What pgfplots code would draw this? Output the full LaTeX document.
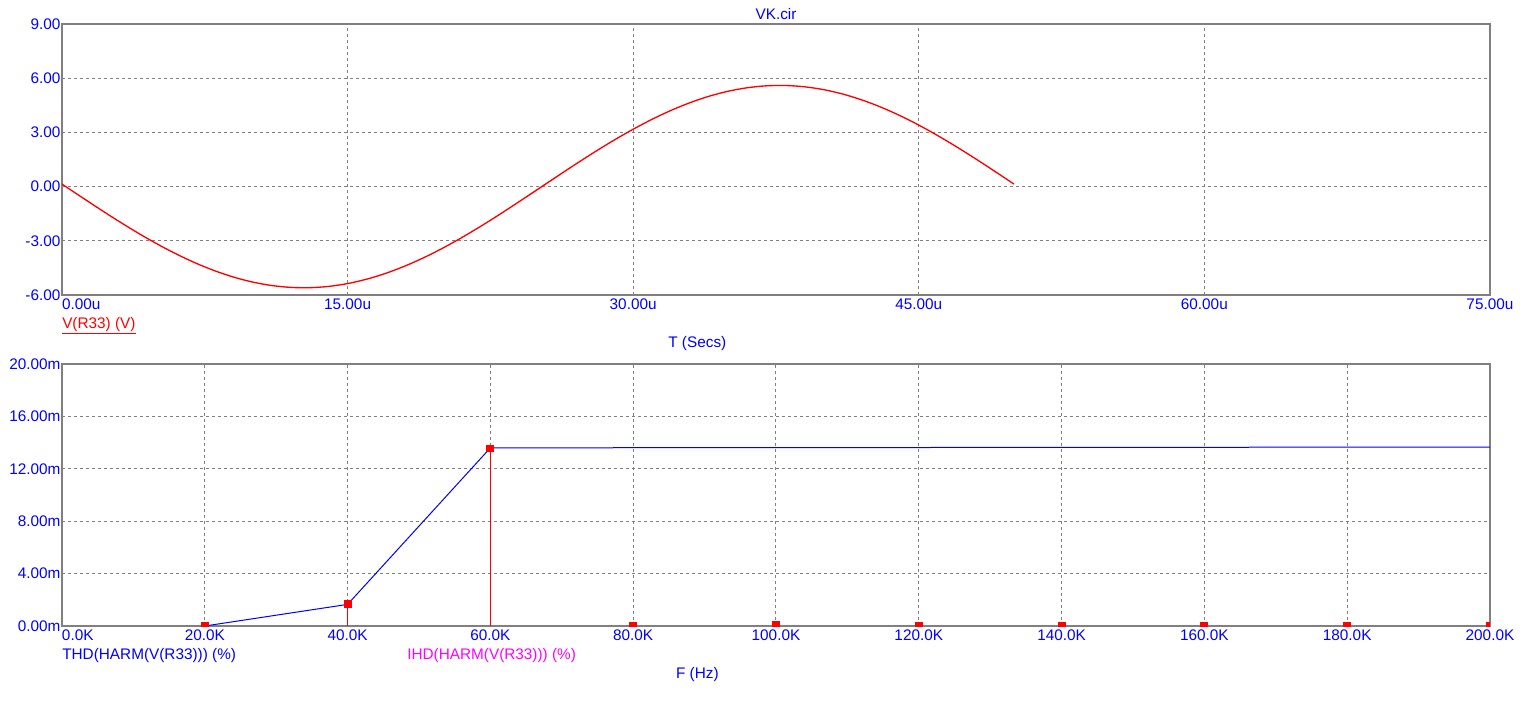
\documentclass[border=0pt]{standalone}
\usepackage{pgfplots}
\pgfplotsset{compat=1.18}
\usepackage{fontspec}
\setmainfont{Liberation Sans}
\definecolor{tblue}{RGB}{0,0,255}
\definecolor{tred}{RGB}{255,0,0}
\definecolor{tmag}{RGB}{255,0,255}
\definecolor{tgray}{RGB}{128,128,128}
\begin{document}
\begin{tikzpicture}
\fontsize{11.5pt}{13pt}\selectfont
\path[use as bounding box] (0,0) rectangle (1149pt,-525pt);
\pgfplotsset{common/.style={
  scale only axis, width=1071pt,
  axis line style={tgray,line width=1pt},
  grid=major,
  major grid style={tgray,dash pattern=on 2.25pt off 2.25pt,line width=0.75pt},
  major tick length=0pt,
  tick label style={font=\fontsize{11.5pt}{13pt}\selectfont, text=tblue},
  yticklabel style={anchor=east, inner sep=1pt},
  xticklabel style={anchor=north, inner sep=1pt, yshift=-2pt},
}}
\begin{axis}[common, at={(46.5pt,-18pt)}, anchor=north west, height=203.25pt,
  xmin=0, xmax=75, ymin=-6, ymax=9,
  xtick={0,15,30,45,60,75},
  xticklabels={\makebox[0pt][l]{0.00u},15.00u,30.00u,45.00u,60.00u,75.00u},
  ytick={-6,-3,0,3,6,9},
  yticklabels={-6.00,-3.00,0.00,3.00,6.00,9.00}]
\addplot[tred, line width=1pt, smooth] coordinates {
(0,0.141) (1,-0.562) (2,-1.256) (3,-1.930) (4,-2.574) (5,-3.176) (6,-3.729) (7,-4.223) (8,-4.651) (9,-5.006)
(10,-5.281) (11,-5.473) (12,-5.578) (13,-5.596) (14,-5.525) (15,-5.368) (16,-5.125) (17,-4.802) (18,-4.403) (19,-3.935)
(20,-3.405) (21,-2.820) (22,-2.192) (23,-1.529) (24,-0.841) (25,-0.141) (26,0.562) (27,1.256) (28,1.930) (29,2.574)
(30,3.176) (31,3.729) (32,4.223) (33,4.651) (34,5.006) (35,5.281) (36,5.473) (37,5.578) (38,5.596) (39,5.525)
(40,5.368) (41,5.125) (42,4.802) (43,4.403) (44,3.935) (45,3.405) (46,2.820) (47,2.192) (48,1.529) (49,0.841) (50,0.141)
};
\end{axis}
\begin{axis}[common, at={(46.5pt,-273pt)}, anchor=north west, height=196.5pt,
  xmin=0, xmax=200, ymin=0, ymax=20, clip marker paths=true,
  xtick={0,20,40,60,80,100,120,140,160,180,200},
  xticklabels={\makebox[0pt][l]{0.0K},20.0K,40.0K,60.0K,80.0K,100.0K,120.0K,140.0K,160.0K,180.0K,200.0K},
  ytick={0,4,8,12,16,20},
  yticklabels={0.00m,4.00m,8.00m,12.00m,16.00m,20.00m}]
\addplot[tblue, line width=0.75pt] coordinates {(20,0) (40,1.65) (60,13.6) (200,13.66)};
\addplot[tred, ycomb, line width=0.75pt, mark=square*, mark size=2.6pt, mark options={tred}] coordinates {
(20,0) (40,1.65) (60,13.55) (80,0) (100,0.05) (120,0) (140,0) (160,0) (180,0) (200,0)};
\end{axis}
\node[text=tblue] at (582pt,-10.5pt) {VK.cir};
\node[text=tred, anchor=west, inner sep=0pt] at (46.5pt,-244.5pt) {\underline{V(R33) (V)}};
\node[text=tblue] at (523pt,-258pt) {T (Secs)};
\node[text=tblue, anchor=west, inner sep=0pt] at (46.5pt,-492pt) {THD(HARM(V(R33))) (\%)};
\node[text=tmag, anchor=west, inner sep=0pt] at (305.25pt,-492pt) {IHD(HARM(V(R33))) (\%)};
\node[text=tblue] at (523pt,-506.25pt) {F (Hz)};
\end{tikzpicture}
\end{document}
